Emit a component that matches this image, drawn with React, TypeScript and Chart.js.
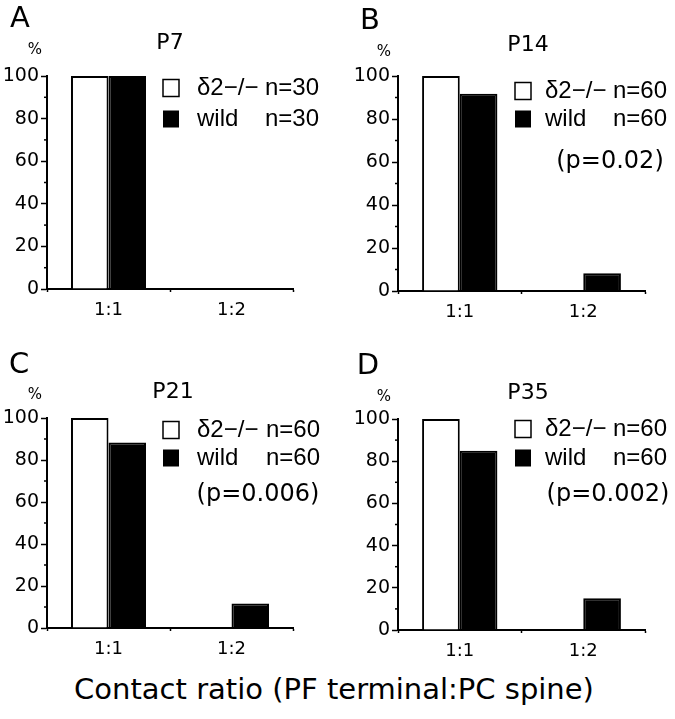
import React, { useEffect, useRef } from "react";
import { Chart, registerables } from "chart.js";

Chart.register(...registerables);

// ---------- data ----------
const categories = ["1:1", "1:2"];
const seriesNames = ["δ2−/−", "wild"];
const yTickValues = [0, 20, 40, 60, 80, 100];
const yMinorTickValues = [10, 30, 50, 70, 90];
const panelLetters = ["A", "B", "C", "D"];
const panelTitles = ["P7", "P14", "P21", "P35"];
const sampleSizes = ["n=30", "n=60", "n=60", "n=60"];
const pValues = ["", "(p=0.02)", "(p=0.006)", "(p=0.002)"];
const knockoutP7 = [100, 0];
const wildP7 = [100, 0];
const knockoutP14 = [100, 0];
const wildP14 = [91.7, 8.3];
const knockoutP21 = [100, 0];
const wildP21 = [88.3, 11.7];
const knockoutP35 = [100, 0];
const wildP35 = [85, 15];
const knockoutSeries = [knockoutP7, knockoutP14, knockoutP21, knockoutP35];
const wildSeries = [wildP7, wildP14, wildP21, wildP35];
const axisTitle = "Contact ratio (PF terminal:PC spine)";

// ---------- layout (page coordinates) ----------
const FONT = "'DejaVu Sans', 'Liberation Sans', sans-serif";
const LFONT = "'Liberation Sans', Arial, sans-serif";
type Layout = {
  cx: number; cy: number; cw: number; ch: number;
  L: number; R: number; T: number; B: number;
  letter: [number, number]; pct: [number, number]; title: [number, number];
  boxX: number; textX: number; nX: number; row1: number; row2: number;
  p: [number, number];
};
const layouts: Layout[] = [
  { cx: 0, cy: 0, cw: 337, ch: 330, L: 47, R: 293, T: 76, B: 289,
    letter: [20, 19], pct: [35, 50], title: [170, 43],
    boxX: 163, textX: 197, nX: 265, row1: 88, row2: 119, p: [0, 0] },
  { cx: 337, cy: 0, cw: 338, ch: 330, L: 398, R: 645, T: 76, B: 291,
    letter: [370, 21], pct: [384, 52], title: [528, 45],
    boxX: 515, textX: 545, nX: 613, row1: 91, row2: 119, p: [610, 162] },
  { cx: 0, cy: 340, cw: 337, ch: 330, L: 47, R: 293, T: 418, B: 628,
    letter: [19, 365], pct: [35, 395], title: [173, 392],
    boxX: 163, textX: 197, nX: 266, row1: 430, row2: 458, p: [258, 495] },
  { cx: 337, cy: 340, cw: 338, ch: 330, L: 398, R: 645, T: 419, B: 630,
    letter: [368, 366], pct: [384, 397], title: [528, 393],
    boxX: 515, textX: 545, nX: 613, row1: 429, row2: 458, p: [608, 495] },
];

function Panel({ idx }: { idx: number }) {
  const ref = useRef<HTMLCanvasElement | null>(null);
  const lay = layouts[idx];
  useEffect(() => {
    if (!ref.current) return;
    const ox = lay.cx;
    const oy = lay.cy;
    const annot = {
      id: "annot" + idx,
      afterDraw(chart: any) {
        const ctx = chart.ctx as CanvasRenderingContext2D;
        const ys = chart.scales.y;
        const left = chart.chartArea.left;
        ctx.save();
        // minor ticks
        ctx.strokeStyle = "#000";
        ctx.lineWidth = 1.5;
        yMinorTickValues.forEach((v) => {
          const py = ys.getPixelForValue(v);
          ctx.beginPath();
          ctx.moveTo(left - 3, py);
          ctx.lineTo(left, py);
          ctx.stroke();
        });
        ctx.fillStyle = "#000";
        ctx.textBaseline = "middle";
        // panel letter
        ctx.textAlign = "center";
        ctx.font = `29px ${FONT}`;
        ctx.fillText(panelLetters[idx], lay.letter[0] - ox, lay.letter[1] - oy);
        // percent
        ctx.font = `15px ${FONT}`;
        ctx.fillText("%", lay.pct[0] - ox, lay.pct[1] - oy);
        // title
        ctx.font = `22px ${FONT}`;
        ctx.fillText(panelTitles[idx], lay.title[0] - ox, lay.title[1] - oy);
        // legend
        const bw = 16, bh = 17;
        ctx.lineWidth = 1.5;
        ctx.fillStyle = "#fff";
        ctx.fillRect(lay.boxX - ox, lay.row1 - oy - bh / 2, bw, bh);
        ctx.strokeRect(lay.boxX - ox, lay.row1 - oy - bh / 2, bw, bh);
        ctx.fillStyle = "#000";
        ctx.fillRect(lay.boxX - ox, lay.row2 - oy - bh / 2, bw, bh);
        ctx.textAlign = "left";
        ctx.font = `24px ${LFONT}`;
        ctx.fillText(seriesNames[0], lay.textX - ox, lay.row1 - oy);
        ctx.fillText(sampleSizes[idx], lay.nX - ox, lay.row1 - oy);
        ctx.fillText(seriesNames[1], lay.textX - ox, lay.row2 - oy);
        ctx.fillText(sampleSizes[idx], lay.nX - ox, lay.row2 - oy);
        if (pValues[idx]) {
          ctx.textAlign = "center";
          ctx.font = `24px ${FONT}`;
          ctx.fillText(pValues[idx], lay.p[0] - ox, lay.p[1] - oy);
        }
        ctx.restore();
      },
    };
    const yWidth = lay.L - lay.cx;
    const xHeight = lay.cy + lay.ch - lay.B;
    const chart = new Chart(ref.current, {
      type: "bar",
      data: {
        labels: categories,
        datasets: [
          {
            label: seriesNames[0],
            data: knockoutSeries[idx],
            backgroundColor: "#ffffff",
            borderColor: "#000000",
            borderWidth: 2,
          },
          {
            label: seriesNames[1],
            data: wildSeries[idx],
            backgroundColor: "#000000",
            borderColor: "#000000",
            borderWidth: 2,
          },
        ],
      },
      options: {
        responsive: false,
        maintainAspectRatio: false,
        animation: false,
        devicePixelRatio: 1,
        datasets: { bar: { categoryPercentage: 0.61, barPercentage: 1 } },
        layout: {
          padding: {
            top: lay.T - lay.cy,
            right: lay.cx + lay.cw - lay.R,
            bottom: 0,
            left: 0,
          },
        },
        plugins: {
          legend: { display: false },
          tooltip: { enabled: false },
          title: { display: false },
        },
        scales: {
          x: {
            grid: {
              display: true,
              drawOnChartArea: false,
              tickLength: 3,
              tickColor: "#000",
              tickWidth: 1.5,
            },
            border: { display: true, color: "#000", width: 2 },
            ticks: {
              color: "#000",
              font: { family: FONT, size: 18 },
              padding: 8,
            },
            afterFit: (s: any) => {
              s.height = xHeight;
            },
          },
          y: {
            min: 0,
            max: 100,
            afterBuildTicks: (s: any) => {
              s.ticks = yTickValues.map((v) => ({ value: v }));
            },
            grid: {
              display: true,
              drawOnChartArea: false,
              tickLength: 6,
              tickColor: "#000",
              tickWidth: 1.5,
            },
            border: { display: true, color: "#000", width: 2 },
            ticks: {
              color: "#000",
              font: { family: FONT, size: 19 },
              padding: 2,
            },
            afterFit: (s: any) => {
              s.width = yWidth;
            },
          },
        },
      },
      plugins: [annot],
    } as any);
    return () => chart.destroy();
  }, [idx]);
  return (
    <canvas
      ref={ref}
      width={lay.cw}
      height={lay.ch}
      style={{
        position: "absolute",
        left: lay.cx,
        top: lay.cy,
        width: lay.cw,
        height: lay.ch,
        display: "block",
      }}
    />
  );
}

export default function App() {
  return (
    <div
      style={{
        position: "absolute",
        left: 0,
        top: 0,
        width: 675,
        height: 719,
        background: "#fff",
        overflow: "hidden",
      }}
    >
      {[0, 1, 2, 3].map((i) => (
        <Panel key={i} idx={i} />
      ))}
      <div
        style={{
          position: "absolute",
          left: 0,
          top: 671,
          width: 668,
          lineHeight: "36px",
          textAlign: "center",
          fontFamily: FONT,
          fontSize: 29,
          color: "#000",
        }}
      >
        {axisTitle}
      </div>
    </div>
  );
}
